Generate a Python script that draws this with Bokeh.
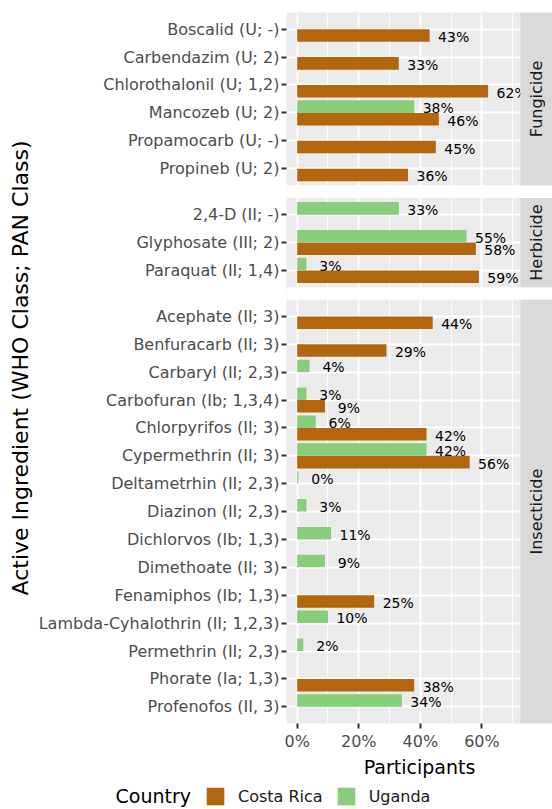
import math
from bokeh.plotting import figure
from bokeh.layouts import column
from bokeh.models import (ColumnDataSource, Range1d, FixedTicker, PrintfTickFormatter,
                          Legend, LegendItem, Label)
from bokeh.transform import dodge
from bokeh.core.properties import value
from bokeh.embed import file_html
from bokeh.resources import INLINE

# ---------------- data ----------------
panel_names = ["Fungicide", "Herbicide", "Insecticide"]

fungicide_ingredients = ["Boscalid (U; -)", "Carbendazim (U; 2)", "Chlorothalonil (U; 1,2)",
                         "Mancozeb (U; 2)", "Propamocarb (U; -)", "Propineb (U; 2)"]
fungicide_costa_rica = [43, 33, 62, 46, 45, 36]
fungicide_uganda = [None, None, None, 38, None, None]

herbicide_ingredients = ["2,4-D (II; -)", "Glyphosate (III; 2)", "Paraquat (II; 1,4)"]
herbicide_costa_rica = [None, 58, 59]
herbicide_uganda = [33, 55, 3]

insecticide_ingredients = ["Acephate (II; 3)", "Benfuracarb (II; 3)", "Carbaryl (II; 2,3)",
                           "Carbofuran (Ib; 1,3,4)", "Chlorpyrifos (II; 3)", "Cypermethrin (II; 3)",
                           "Deltametrhin (II; 2,3)", "Diazinon (II; 2,3)", "Dichlorvos (Ib; 1,3)",
                           "Dimethoate (II; 3)", "Fenamiphos (Ib; 1,3)",
                           "Lambda-Cyhalothrin (II; 1,2,3)", "Permethrin (II; 2,3)",
                           "Phorate (Ia; 1,3)", "Profenofos (II, 3)"]
insecticide_costa_rica = [44, 29, None, 9, 42, 56, None, None, None, None, 25, None, None, 38, None]
insecticide_uganda = [None, None, 4, 3, 6, 42, 0.4, 3, 11, 9, None, 10, 2, None, 34]

countries = ["Costa Rica", "Uganda"]
legend_title = "Country"
x_ticks = [0, 20, 40, 60]
x_minor_ticks = [10, 30, 50, 70]

# ---------------- layout / style constants ----------------
STEP = 20          # distance between categories (y units)
PAD = 12           # expansion at panel ends (0.6 step)
GAP = 9            # white gap between panels
BAR_H = 9          # bar thickness (0.45 step)
DODGE = 4.5
LABEL_NUDGE = 7.8  # label centre offset (in % units)
X_LO, X_PANEL_HI, X_HI = -3.47, 72.5, 82.9
W, FRAME_LEFT = 552, 286

CR_COLOR = "#B3660E"
UG_COLOR = "#88CD7A"
FONT = "DejaVu Sans"

panels = [
    (panel_names[0], fungicide_ingredients, fungicide_costa_rica, fungicide_uganda),
    (panel_names[1], herbicide_ingredients, herbicide_costa_rica, herbicide_uganda),
    (panel_names[2], insecticide_ingredients, insecticide_costa_rica, insecticide_uganda),
]

total = sum(2 * PAD + STEP * (len(p[1]) - 1) for p in panels) + GAP * (len(panels) - 1)

cr = dict(y=[], value=[], label=[], lx=[])
ug = dict(y=[], value=[], label=[], lx=[])
tick_pos, tick_lab = [], []
ptop, pbot, pmid = [], [], []
cur = total
for name, ingr, crv, ugv in panels:
    top = cur
    y = top - PAD
    for i, nm in enumerate(ingr):
        yy = y - i * STEP
        tick_pos.append(yy)
        tick_lab.append(nm)
        for src, vals in ((cr, crv), (ug, ugv)):
            v = vals[i]
            if v is not None:
                src["y"].append(yy)
                src["value"].append(v)
                src["label"].append(f"{round(v)}%")
                src["lx"].append(v + LABEL_NUDGE)
    bot = y - (len(ingr) - 1) * STEP - PAD
    ptop.append(top)
    pbot.append(bot)
    pmid.append((top + bot) / 2)
    cur = bot - GAP

cr_src = ColumnDataSource(cr)
ug_src = ColumnDataSource(ug)
strip_src = ColumnDataSource(dict(top=ptop, bottom=pbot, mid=pmid, name=panel_names,
                                  x=[(X_PANEL_HI + X_HI) / 2] * len(panel_names)))
gap_src = ColumnDataSource(dict(top=pbot[:-1], bottom=ptop[1:]))

# ---------------- main figure ----------------
p = figure(width=W, height=781, x_range=Range1d(X_LO, X_HI), y_range=Range1d(0, total),
           output_backend="svg", toolbar_location=None,
           min_border_left=FRAME_LEFT, min_border_right=0, min_border_top=12, min_border_bottom=58)
p.background_fill_color = "#EBEBEB"
p.border_fill_color = "white"
p.outline_line_color = None

# x axis
p.xaxis.ticker = FixedTicker(ticks=x_ticks, minor_ticks=x_minor_ticks)
p.xaxis.formatter = PrintfTickFormatter(format="%d%%")
p.xaxis.axis_line_color = None
p.xaxis.major_tick_line_color = "#333333"
p.xaxis.major_tick_line_width = 2
p.xaxis.major_tick_out = 5
p.xaxis.major_tick_in = 0
p.xaxis.minor_tick_line_color = None
p.xaxis.major_label_text_font = FONT
p.xaxis.major_label_text_font_size = "16px"
p.xaxis.major_label_text_color = "#4D4D4D"
p.xaxis.major_label_standoff = 3
p.xaxis.axis_label = "Participants"
p.xaxis.axis_label_text_font = FONT
p.xaxis.axis_label_text_font_size = "19px"
p.xaxis.axis_label_text_font_style = "normal"
p.xaxis.axis_label_text_color = "black"
p.xaxis.axis_label_standoff = 2

# y axis
p.yaxis.ticker = FixedTicker(ticks=tick_pos)
p.yaxis.major_label_overrides = {pos: lab for pos, lab in zip(tick_pos, tick_lab)}
p.yaxis.axis_line_color = None
p.yaxis.major_tick_line_color = "#333333"
p.yaxis.major_tick_line_width = 2
p.yaxis.major_tick_out = 5
p.yaxis.major_tick_in = 0
p.yaxis.minor_tick_line_color = None
p.yaxis.major_label_text_font = FONT
p.yaxis.major_label_text_font_size = "16px"
p.yaxis.major_label_text_color = "#4D4D4D"
p.yaxis.major_label_standoff = 2
p.yaxis.axis_label = "Active Ingredient (WHO Class; PAN Class)"
p.yaxis.axis_label_text_font = FONT
p.yaxis.axis_label_text_font_size = "22px"
p.yaxis.axis_label_text_font_style = "normal"
p.yaxis.axis_label_text_color = "black"
p.yaxis.axis_label_standoff = 3

# grids
p.xgrid.grid_line_color = "white"
p.xgrid.grid_line_width = 1.8
p.xgrid.minor_grid_line_color = "white"
p.xgrid.minor_grid_line_width = 0.9
p.ygrid.grid_line_color = "white"
p.ygrid.grid_line_width = 1.8

# bars
p.hbar(y=dodge("y", -DODGE), left=0, right="value", height=BAR_H, source=cr_src,
       fill_color=CR_COLOR, line_color=None)
p.hbar(y=dodge("y", DODGE), left=0, right="value", height=BAR_H, source=ug_src,
       fill_color=UG_COLOR, line_color=None)

# value labels
for src, off in ((cr_src, -DODGE), (ug_src, DODGE)):
    p.text(x="lx", y=dodge("y", off), text="label", source=src,
           text_font=value(FONT), text_font_size="14px", text_color="black",
           text_align="center", text_baseline="middle", y_offset=1.5)

# white gaps between panels
p.quad(left=X_LO, right=X_HI, top="top", bottom="bottom", source=gap_src,
       fill_color="white", line_color=None)

# facet strips (drawn after labels so they clip overflowing labels like the panel edge)
p.quad(left=X_PANEL_HI, right=X_HI, top="top", bottom="bottom", source=strip_src,
       fill_color="#D9D9D9", line_color=None)
p.text(x="x", y="mid", text="name", source=strip_src, angle=math.pi / 2,
       text_font=value(FONT), text_font_size="16px", text_color="#1A1A1A",
       text_align="center", text_baseline="middle")

# ---------------- legend strip (separate small figure, 1 unit = 1 px) ----------------
LEG_H = 28
can_unalign = "frame_align" in p.properties()
leg_left = 0 if can_unalign else FRAME_LEFT
pl = figure(width=W, height=LEG_H, x_range=Range1d(0, W - leg_left), y_range=Range1d(0, LEG_H),
            output_backend="svg", toolbar_location=None,
            min_border_left=leg_left, min_border_right=0, min_border_top=0, min_border_bottom=0)
if can_unalign:
    p.frame_align = False
    pl.frame_align = False
pl.axis.visible = False
pl.grid.visible = False
pl.outline_line_color = None
pl.background_fill_color = "white"
pl.border_fill_color = "white"
# legend proxies (kept outside the visible range)
l_cr = pl.hbar(y=[-50], left=[0], right=[1], height=1, fill_color=CR_COLOR, line_color=None)
l_ug = pl.hbar(y=[-50], left=[0], right=[1], height=1, fill_color=UG_COLOR, line_color=None)

pl.add_layout(Label(x=115 - leg_left, y=LEG_H / 2, text=legend_title, text_font=FONT,
                    text_font_size="19px", text_color="black", text_align="left",
                    text_baseline="middle"))

legend = Legend(items=[LegendItem(label=countries[0], renderers=[l_cr]),
                       LegendItem(label=countries[1], renderers=[l_ug])],
                orientation="horizontal", location=(204 - leg_left, 2),
                glyph_width=22, glyph_height=22, label_standoff=12, spacing=12,
                label_text_font=FONT, label_text_font_size="16px", label_text_color="#1A1A1A",
                border_line_color=None, background_fill_alpha=0, padding=1, margin=0)
pl.add_layout(legend, "center")

layout = column(p, pl, spacing=0)
open("out.html", "w").write(file_html(layout, INLINE))
